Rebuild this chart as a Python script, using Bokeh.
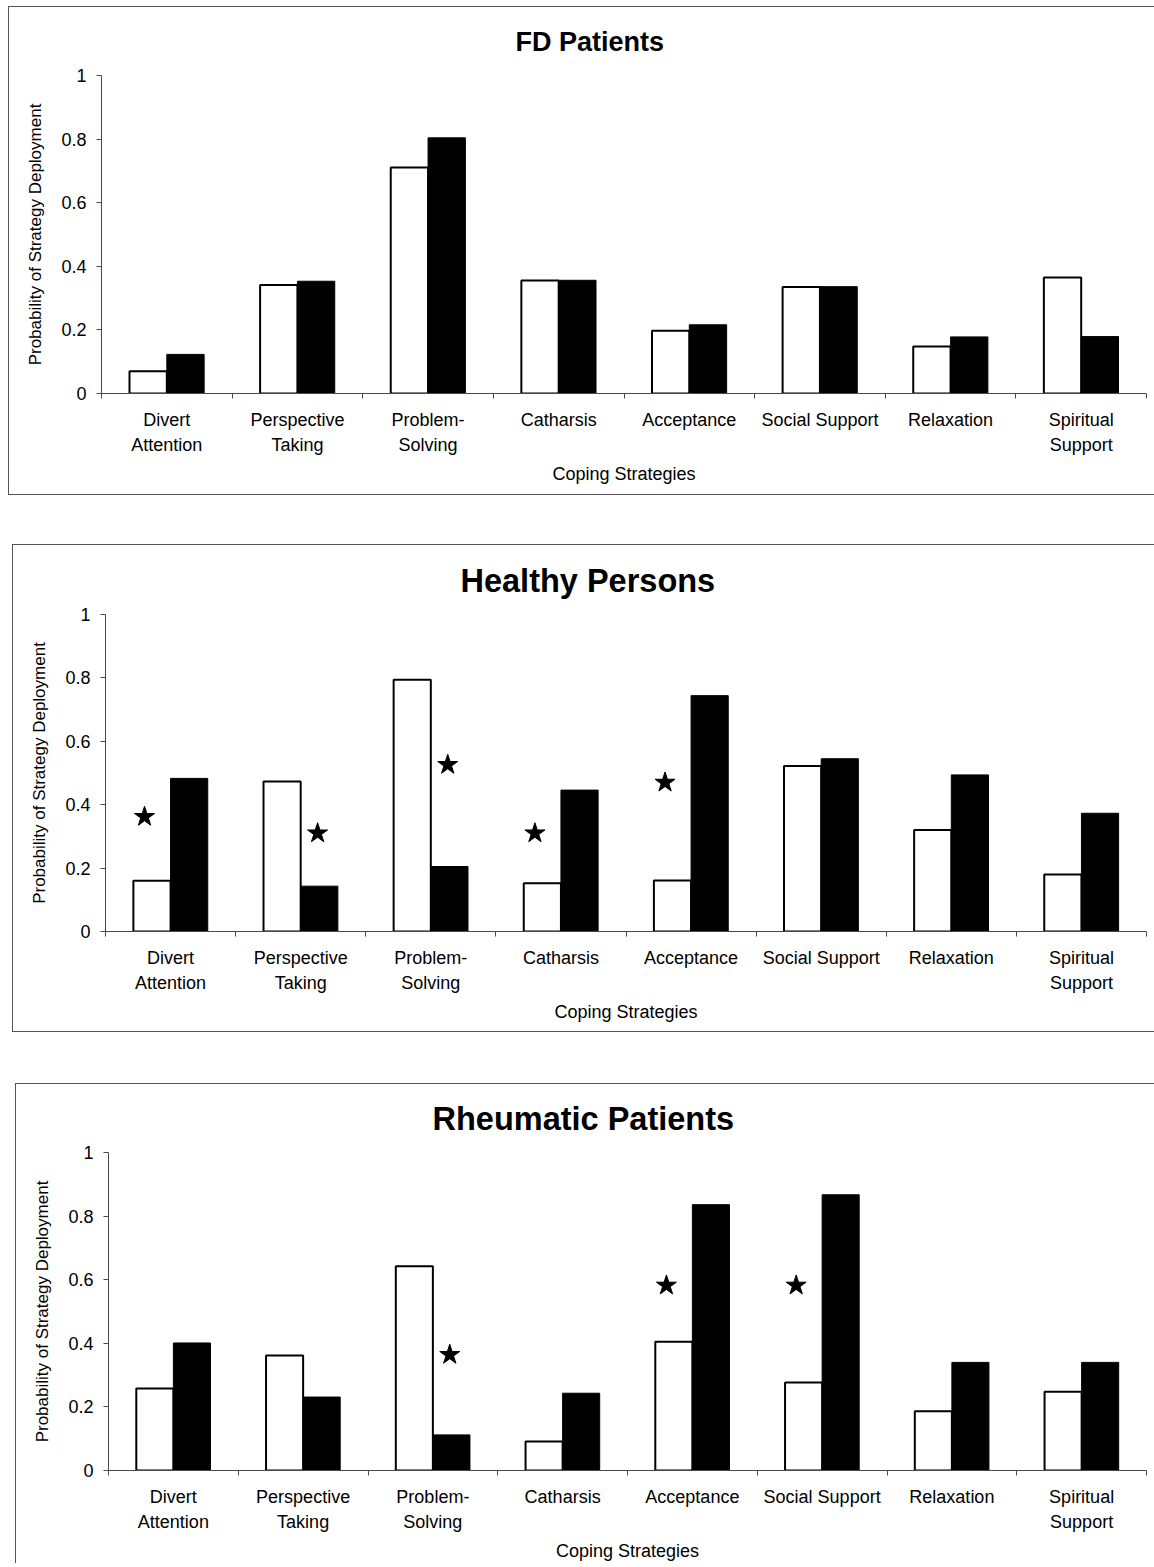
import numpy as np
from bokeh.plotting import figure
from bokeh.layouts import column
from bokeh.models import FixedTicker, Range1d, ColumnDataSource
from bokeh.embed import file_html
from bokeh.resources import INLINE

# ---------------- data ----------------
categories = ["Divert\nAttention", "Perspective\nTaking", "Problem-\nSolving", "Catharsis",
              "Acceptance", "Social Support", "Relaxation", "Spiritual\nSupport"]
y_ticks = [0, 0.2, 0.4, 0.6, 0.8, 1]
y_tick_labels = ["0", "0.2", "0.4", "0.6", "0.8", "1"]

titles = ["FD Patients", "Healthy Persons", "Rheumatic Patients"]

fd_white = [0.070, 0.341, 0.711, 0.355, 0.197, 0.335, 0.148, 0.365]
fd_black = [0.123, 0.353, 0.804, 0.356, 0.216, 0.336, 0.178, 0.179]

hp_white = [0.160, 0.473, 0.794, 0.152, 0.161, 0.522, 0.320, 0.180]
hp_black = [0.483, 0.143, 0.205, 0.446, 0.744, 0.545, 0.494, 0.373]

rp_white = [0.258, 0.362, 0.642, 0.091, 0.405, 0.277, 0.186, 0.248]
rp_black = [0.401, 0.231, 0.112, 0.243, 0.836, 0.867, 0.340, 0.340]

# significance stars: category index, bar side, height
fd_star_cat, fd_star_side, fd_star_y = [], [], []
hp_star_cat = [0, 1, 2, 3, 4]
hp_star_side = ["white", "black", "black", "white", "white"]
hp_star_y = [0.362, 0.310, 0.526, 0.310, 0.470]
rp_star_cat = [2, 4, 5]
rp_star_side = ["black", "white", "white"]
rp_star_y = [0.364, 0.582, 0.582]

# ---------------- style ----------------
FONT = "Liberation Sans"
BAR_W = 1 / 3.5
STAR_DX = {"white": -0.2, "black": 0.13}
AXIS_COLOR = "#4a4a4a"

panels = [
    dict(title=titles[0], white=fd_white, black=fd_black,
         stars=(fd_star_cat, fd_star_side, fd_star_y),
         tsize="27px", toff=414, tstand=33,
         width=1146, height=489, ml=92, mr=9, mt=68, mb=103,
         margin=(6, 0, 0, 8), borders=("left", "top", "bottom")),
    dict(title=titles[1], white=hp_white, black=hp_black,
         stars=(hp_star_cat, hp_star_side, hp_star_y),
         tsize="32.5px", toff=355, tstand=28,
         width=1142, height=488, ml=91, mr=7, mt=69, mb=102,
         margin=(49, 0, 0, 12), borders=("left", "top", "bottom")),
    dict(title=titles[2], white=rp_white, black=rp_black,
         stars=(rp_star_cat, rp_star_side, rp_star_y),
         tsize="32.5px", toff=324, tstand=27,
         width=1139, height=480, ml=92, mr=3, mt=68, mb=94,
         margin=(51, 0, 0, 15), borders=("left", "top")),
]

centers = [i + 0.5 for i in range(len(categories))]
bounds = list(range(len(categories) + 1))


def make_panel(cfg):
    p = figure(width=cfg["width"], height=cfg["height"],
               x_range=Range1d(0, len(categories)), y_range=Range1d(0, 1),
               output_backend="svg", toolbar_location=None,
               min_border_left=cfg["ml"], min_border_right=cfg["mr"],
               min_border_top=cfg["mt"], min_border_bottom=cfg["mb"],
               margin=cfg["margin"])
    p.outline_line_color = None
    p.xgrid.visible = False
    p.ygrid.visible = False
    p.background_fill_color = "white"
    p.border_fill_color = "white"
    p.styles = {f"border-{b}": "1.5px solid #555" for b in cfg["borders"]}

    # title
    p.title.text = cfg["title"]
    p.title.align = "left"
    p.title.vertical_align = "top"
    p.title.offset = cfg["toff"]
    p.title.standoff = cfg["tstand"]
    p.title.text_font = FONT
    p.title.text_font_size = cfg["tsize"]
    p.title.text_font_style = "bold"
    p.title.text_color = "black"

    src = ColumnDataSource(dict(
        xw=[c - BAR_W / 2 for c in centers], xb=[c + BAR_W / 2 for c in centers],
        w=cfg["white"], b=cfg["black"]))
    p.vbar(x="xw", top="w", bottom=0, width=BAR_W, source=src,
           fill_color="white", line_color="black", line_width=2)
    p.vbar(x="xb", top="b", bottom=0, width=BAR_W, source=src,
           fill_color="black", line_color="black", line_width=1)

    cat, side, sy = cfg["stars"]
    if cat:
        sx = [centers[c] + STAR_DX[s] for c, s in zip(cat, side)]
        p.scatter(x=sx, y=sy, marker="star", size=21,
                  fill_color="black", line_color="black")

    # y axis
    ya = p.yaxis[0]
    ya.ticker = FixedTicker(ticks=y_ticks)
    ya.major_label_overrides = {t: l for t, l in zip(y_ticks, y_tick_labels)}
    ya.minor_tick_line_color = None
    ya.major_tick_out = 5
    ya.major_tick_in = 0
    ya.major_label_standoff = 10
    ya.axis_line_color = AXIS_COLOR
    ya.major_tick_line_color = AXIS_COLOR
    ya.major_label_text_font = FONT
    ya.major_label_text_font_size = "18px"
    ya.major_label_text_color = "black"
    ya.axis_label = "Probability of Strategy Deployment"
    ya.axis_label_text_font = FONT
    ya.axis_label_text_font_size = "17px"
    ya.axis_label_text_font_style = "normal"
    ya.axis_label_text_color = "black"
    ya.axis_label_standoff = 13

    # x axis: labels at centres, tick marks at category boundaries
    xa = p.xaxis[0]
    xa.ticker = FixedTicker(ticks=centers, minor_ticks=bounds)
    xa.major_label_overrides = {c: l for c, l in zip(centers, categories)}
    xa.major_tick_out = 0
    xa.major_tick_in = 0
    xa.minor_tick_out = 5
    xa.minor_tick_in = 0
    xa.minor_tick_line_color = AXIS_COLOR
    xa.axis_line_color = AXIS_COLOR
    xa.major_label_standoff = 11
    xa.major_label_text_font = FONT
    xa.major_label_text_font_size = "18px"
    xa.major_label_text_color = "black"
    xa.major_label_text_line_height = 1.25
    xa.axis_label = "Coping Strategies"
    xa.axis_label_text_font = FONT
    xa.axis_label_text_font_size = "18px"
    xa.axis_label_text_font_style = "normal"
    xa.axis_label_text_color = "black"
    xa.axis_label_standoff = 6
    return p


figs = [make_panel(c) for c in panels]
layout = column(*figs, spacing=0)

with open("out.html", "w") as f:
    f.write(file_html(layout, INLINE))
